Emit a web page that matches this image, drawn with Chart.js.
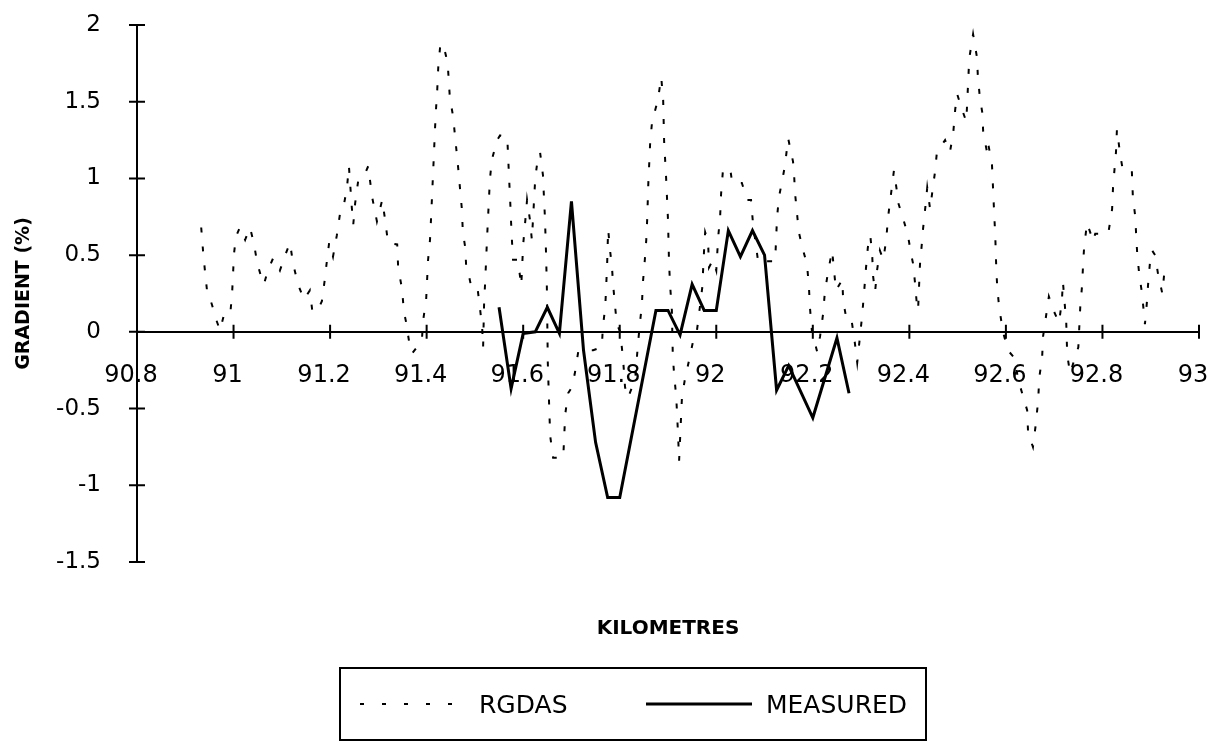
<!DOCTYPE html>
<html>
<head>
<meta charset="utf-8">
<title>Gradient vs kilometres</title>
<script src="https://cdn.jsdelivr.net/npm/chart.js@4.4.1/dist/chart.umd.min.js"></script>
<style>
  body { margin: 0; background: #fff; }
  #wrap { position: relative; width: 1211px; height: 743px; font-family: "DejaVu Sans", sans-serif; color: #000; }
  #xtitle { position: absolute; left: 568px; width: 200px; top: 615px; text-align: center; font-weight: bold; font-size: 20px; }
  #legend { position: absolute; left: 339px; top: 667px; width: 588px; height: 74px; border: 2px solid #000; box-sizing: border-box; }
  #legend .item { position: absolute; top: 0; height: 70px; display: flex; align-items: center; font-size: 25px; }
  #legend svg { display: block; }
</style>
</head>
<body>
<div id="wrap">
  <canvas id="statsChart" width="1211" height="743"></canvas>
  <div id="xtitle">KILOMETRES</div>
  <div id="legend">
    <div class="item" style="left:19px">
      <svg width="92" height="6"><line x1="0" y1="3" x2="92" y2="3" stroke="#000" stroke-width="2" stroke-dasharray="4 18"/></svg>
      <span style="margin-left:27px">RGDAS</span>
    </div>
    <div class="item" style="left:305px">
      <svg width="106" height="6"><line x1="0" y1="3" x2="106" y2="3" stroke="#000" stroke-width="3"/></svg>
      <span style="margin-left:14px">MEASURED</span>
    </div>
  </div>
</div>
<script>
const xTicks = [90.8, 91, 91.2, 91.4, 91.6, 91.8, 92, 92.2, 92.4, 92.6, 92.8, 93];
const yTicks = [-1.5, -1, -0.5, 0, 0.5, 1, 1.5, 2];

// RGDAS (dashed)
const rgdasKm = [
  90.933, 90.937, 90.941, 90.945, 90.955, 90.964, 90.972, 90.980, 90.993, 90.997,
  90.999, 91.001, 91.005, 91.013, 91.024, 91.034, 91.042, 91.049, 91.057, 91.063,
  91.071, 91.082, 91.096, 91.107, 91.117, 91.123, 91.129, 91.136, 91.146, 91.158,
  91.163, 91.173, 91.183, 91.189, 91.194, 91.198, 91.206, 91.214, 91.221, 91.227,
  91.235, 91.239, 91.245, 91.248, 91.252, 91.258, 91.268, 91.279, 91.287, 91.297,
  91.308, 91.314, 91.320, 91.339, 91.341, 91.349, 91.353, 91.357, 91.364, 91.370,
  91.380, 91.390, 91.393, 91.399, 91.401, 91.403, 91.407, 91.409, 91.411, 91.413,
  91.415, 91.417, 91.419, 91.422, 91.424, 91.428, 91.434, 91.440, 91.444, 91.448,
  91.455, 91.459, 91.465, 91.469, 91.473, 91.475, 91.480, 91.482, 91.488, 91.494,
  91.506, 91.511, 91.515, 91.517, 91.519, 91.521, 91.523, 91.525, 91.527, 91.529,
  91.531, 91.535, 91.546, 91.552, 91.567, 91.569, 91.571, 91.573, 91.575, 91.577,
  91.579, 91.589, 91.596, 91.600, 91.604, 91.608, 91.614, 91.618, 91.625, 91.629,
  91.635, 91.641, 91.643, 91.645, 91.647, 91.649, 91.650, 91.651, 91.654, 91.656,
  91.662, 91.683, 91.685, 91.687, 91.693, 91.701, 91.707, 91.714, 91.734, 91.745,
  91.763, 91.765, 91.770, 91.772, 91.774, 91.776, 91.780, 91.784, 91.786, 91.790,
  91.794, 91.801, 91.807, 91.811, 91.817, 91.832, 91.838, 91.842, 91.846, 91.848,
  91.852, 91.855, 91.857, 91.859, 91.861, 91.863, 91.867, 91.879, 91.886, 91.890,
  91.892, 91.896, 91.898, 91.900, 91.902, 91.904, 91.908, 91.910, 91.913, 91.917,
  91.921, 91.923, 91.929, 91.935, 91.944, 91.952, 91.960, 91.966, 91.971, 91.975,
  91.977, 91.983, 91.985, 91.993, 92.000, 92.004, 92.008, 92.010, 92.014, 92.029,
  92.033, 92.053, 92.064, 92.072, 92.076, 92.087, 92.097, 92.122, 92.124, 92.126,
  92.130, 92.138, 92.142, 92.149, 92.159, 92.161, 92.163, 92.167, 92.171, 92.180,
  92.188, 92.192, 92.194, 92.198, 92.209, 92.215, 92.221, 92.225, 92.232, 92.240,
  92.244, 92.248, 92.261, 92.263, 92.271, 92.281, 92.287, 92.292, 92.302, 92.306,
  92.310, 92.314, 92.319, 92.323, 92.325, 92.329, 92.333, 92.339, 92.346, 92.352,
  92.356, 92.362, 92.368, 92.375, 92.377, 92.387, 92.397, 92.404, 92.408, 92.412,
  92.416, 92.418, 92.422, 92.426, 92.428, 92.433, 92.437, 92.443, 92.447, 92.453,
  92.457, 92.474, 92.484, 92.491, 92.495, 92.499, 92.509, 92.518, 92.520, 92.522,
  92.524, 92.532, 92.540, 92.542, 92.546, 92.551, 92.553, 92.561, 92.563, 92.571,
  92.573, 92.575, 92.578, 92.580, 92.582, 92.586, 92.594, 92.604, 92.615, 92.629,
  92.644, 92.646, 92.656, 92.662, 92.667, 92.669, 92.675, 92.677, 92.683, 92.689,
  92.700, 92.710, 92.716, 92.718, 92.725, 92.727, 92.733, 92.750, 92.752, 92.754,
  92.758, 92.760, 92.762, 92.768, 92.781, 92.785, 92.812, 92.820, 92.822, 92.828,
  92.830, 92.837, 92.843, 92.861, 92.863, 92.868, 92.870, 92.872, 92.876, 92.882,
  92.888, 92.892, 92.895, 92.899, 92.903, 92.909, 92.915, 92.924, 92.928
];
const rgdasGrad = [
  0.68, 0.52, 0.39, 0.27, 0.18, 0.08, 0.01, 0.11, 0.11, 0.25,
  0.38, 0.51, 0.62, 0.68, 0.60, 0.68, 0.58, 0.45, 0.36, 0.31,
  0.40, 0.48, 0.40, 0.50, 0.58, 0.45, 0.37, 0.29, 0.21, 0.27,
  0.14, 0.13, 0.20, 0.34, 0.48, 0.58, 0.49, 0.63, 0.78, 0.80,
  0.94, 1.08, 0.81, 0.70, 0.84, 0.98, 1.00, 1.08, 0.88, 0.72,
  0.86, 0.73, 0.58, 0.57, 0.42, 0.28, 0.13, 0.07, -0.07, -0.14,
  -0.10, -0.06, 0.08, 0.21, 0.34, 0.47, 0.60, 0.73, 0.87, 1.01,
  1.15, 1.30, 1.43, 1.58, 1.72, 1.86, 1.88, 1.80, 1.73, 1.53,
  1.40, 1.27, 1.08, 0.94, 0.80, 0.65, 0.55, 0.42, 0.36, 0.27,
  0.27, 0.14, 0.03, -0.10, 0.18, 0.31, 0.45, 0.60, 0.73, 0.86,
  0.99, 1.12, 1.25, 1.28, 1.27, 1.13, 0.99, 0.86, 0.71, 0.58,
  0.47, 0.47, 0.30, 0.57, 0.71, 0.86, 0.73, 0.60, 1.00, 1.10,
  1.17, 1.02, 0.88, 0.75, 0.55, 0.30, 0.05, -0.20, -0.50, -0.68,
  -0.82, -0.82, -0.68, -0.54, -0.40, -0.36, -0.27, -0.13, -0.12, -0.12,
  -0.10, 0.03, 0.16, 0.30, 0.45, 0.67, 0.53, 0.42, 0.32, 0.18,
  0.05, 0.00, -0.18, -0.36, -0.43, -0.31, -0.07, 0.06, 0.18, 0.32,
  0.47, 0.60, 0.74, 0.95, 1.09, 1.23, 1.37, 1.51, 1.66, 1.51,
  1.24, 1.01, 0.87, 0.73, 0.47, 0.32, 0.14, -0.16, -0.29, -0.42,
  -0.68, -0.84, -0.42, -0.31, -0.18, -0.06, 0.01, 0.16, 0.29, 0.55,
  0.65, 0.59, 0.42, 0.47, 0.40, 0.62, 0.75, 0.90, 1.06, 1.06,
  0.97, 0.97, 0.86, 0.86, 0.71, 0.45, 0.46, 0.46, 0.61, 0.75,
  0.88, 1.01, 1.08, 1.26, 1.11, 1.04, 0.91, 0.78, 0.65, 0.53,
  0.44, 0.29, 0.16, 0.01, -0.13, -0.03, 0.11, 0.26, 0.40, 0.53,
  0.40, 0.27, 0.34, 0.20, 0.06, 0.06, -0.07, -0.20, 0.10, 0.25,
  0.41, 0.55, 0.63, 0.50, 0.36, 0.26, 0.40, 0.53, 0.47, 0.60,
  0.75, 0.90, 1.05, 0.90, 0.84, 0.74, 0.63, 0.50, 0.44, 0.31,
  0.16, 0.14, 0.44, 0.58, 0.66, 0.81, 0.94, 0.80, 0.90, 1.04,
  1.17, 1.25, 1.17, 1.30, 1.45, 1.55, 1.45, 1.37, 1.51, 1.64,
  1.78, 1.94, 1.79, 1.66, 1.53, 1.43, 1.30, 1.17, 1.23, 1.10,
  0.96, 0.82, 0.62, 0.42, 0.29, 0.16, 0.00, -0.12, -0.16, -0.35,
  -0.51, -0.66, -0.75, -0.60, -0.44, -0.30, -0.17, -0.03, 0.10, 0.23,
  0.13, 0.06, 0.20, 0.33, 0.06, -0.15, -0.27, -0.10, 0.03, 0.16,
  0.31, 0.45, 0.55, 0.71, 0.59, 0.64, 0.64, 0.80, 0.95, 1.17,
  1.32, 1.15, 1.04, 1.04, 0.88, 0.75, 0.62, 0.51, 0.38, 0.25,
  0.05, 0.19, 0.33, 0.47, 0.53, 0.50, 0.38, 0.25, 0.38
];

// MEASURED (solid)
const measuredKm = [91.55, 91.575, 91.6, 91.625, 91.65, 91.675, 91.7, 91.725, 91.75, 91.775, 91.8,
  91.875, 91.9, 91.925, 91.95, 91.975, 92.0, 92.025, 92.05, 92.075, 92.1, 92.125, 92.15, 92.2, 92.25, 92.275];
const measuredGrad = [0.16, -0.37, -0.01, 0.0, 0.16, -0.01, 0.85, -0.12, -0.72, -1.08, -1.08,
  0.14, 0.14, -0.02, 0.31, 0.14, 0.14, 0.66, 0.49, 0.66, 0.50, -0.38, -0.22, -0.56, -0.04, -0.40];

const FONT = 'DejaVu Sans';

// tick marks that cross both axes
const crossTicks = {
  id: 'crossTicks',
  afterDraw(chart) {
    const {ctx, scales: {x, y}} = chart;
    const x0 = x.getPixelForValue(xTicks[0]);
    const y0 = y.getPixelForValue(0);
    ctx.save();
    ctx.strokeStyle = '#000';
    ctx.lineWidth = 2;
    ctx.beginPath();
    yTicks.forEach(v => {
      const py = y.getPixelForValue(v);
      ctx.moveTo(x0 - 8, py);
      ctx.lineTo(x0 + 8, py);
    });
    xTicks.slice(1).forEach(v => {
      const px = x.getPixelForValue(v);
      ctx.moveTo(px, y0 - 7);
      ctx.lineTo(px, y0 + 7);
    });
    ctx.stroke();
    ctx.restore();
  }
};

const ctx = document.getElementById('statsChart').getContext('2d');

new Chart(ctx, {
  type: 'line',
  data: {
    datasets: [{
      label: 'RGDAS',
      data: rgdasKm.map((km, i) => ({x: km, y: rgdasGrad[i]})),
      borderColor: '#000',
      borderWidth: 2,
      borderDash: [5, 14],
      pointRadius: 0,
      tension: 0,
      fill: false
    }, {
      label: 'MEASURED',
      data: measuredKm.map((km, i) => ({x: km, y: measuredGrad[i]})),
      borderColor: '#000',
      borderWidth: 3,
      pointRadius: 0,
      tension: 0,
      fill: false
    }]
  },
  options: {
    responsive: false,
    animation: false,
    layout: { padding: { left: 0, right: 12, top: 25, bottom: 181 } },
    plugins: {
      legend: { display: false },
      tooltip: { enabled: false }
    },
    scales: {
      x: {
        type: 'linear',
        min: 90.8,
        max: 93,
        position: { y: 0 },
        afterBuildTicks: s => { s.ticks = xTicks.map(v => ({value: v})); },
        afterFit: s => { s.paddingLeft = 0; s.paddingRight = 0; },
        ticks: {
          callback: v => String(v),
          font: { family: FONT, size: 24 },
          color: '#000',
          padding: 30,
          labelOffset: -6,
          autoSkip: false,
          maxRotation: 0
        },
        grid: { display: false, drawTicks: false },
        border: { color: '#000', width: 2 }
      },
      y: {
        min: -1.5,
        max: 2,
        afterBuildTicks: s => { s.ticks = yTicks.map(v => ({value: v})); },
        afterFit: s => { s.width = 137; s.paddingTop = 0; s.paddingBottom = 0; },
        ticks: {
          callback: v => String(v),
          font: { family: FONT, size: 23 },
          color: '#000',
          padding: 36
        },
        grid: { display: false, drawTicks: false },
        border: { color: '#000', width: 2 },
        title: {
          display: true,
          text: 'GRADIENT (%)',
          font: { family: FONT, size: 19, weight: 'bold' },
          color: '#000',
          padding: { top: 13, bottom: 0 }
        }
      }
    }
  },
  plugins: [crossTicks]
});
</script>
</body>
</html>
